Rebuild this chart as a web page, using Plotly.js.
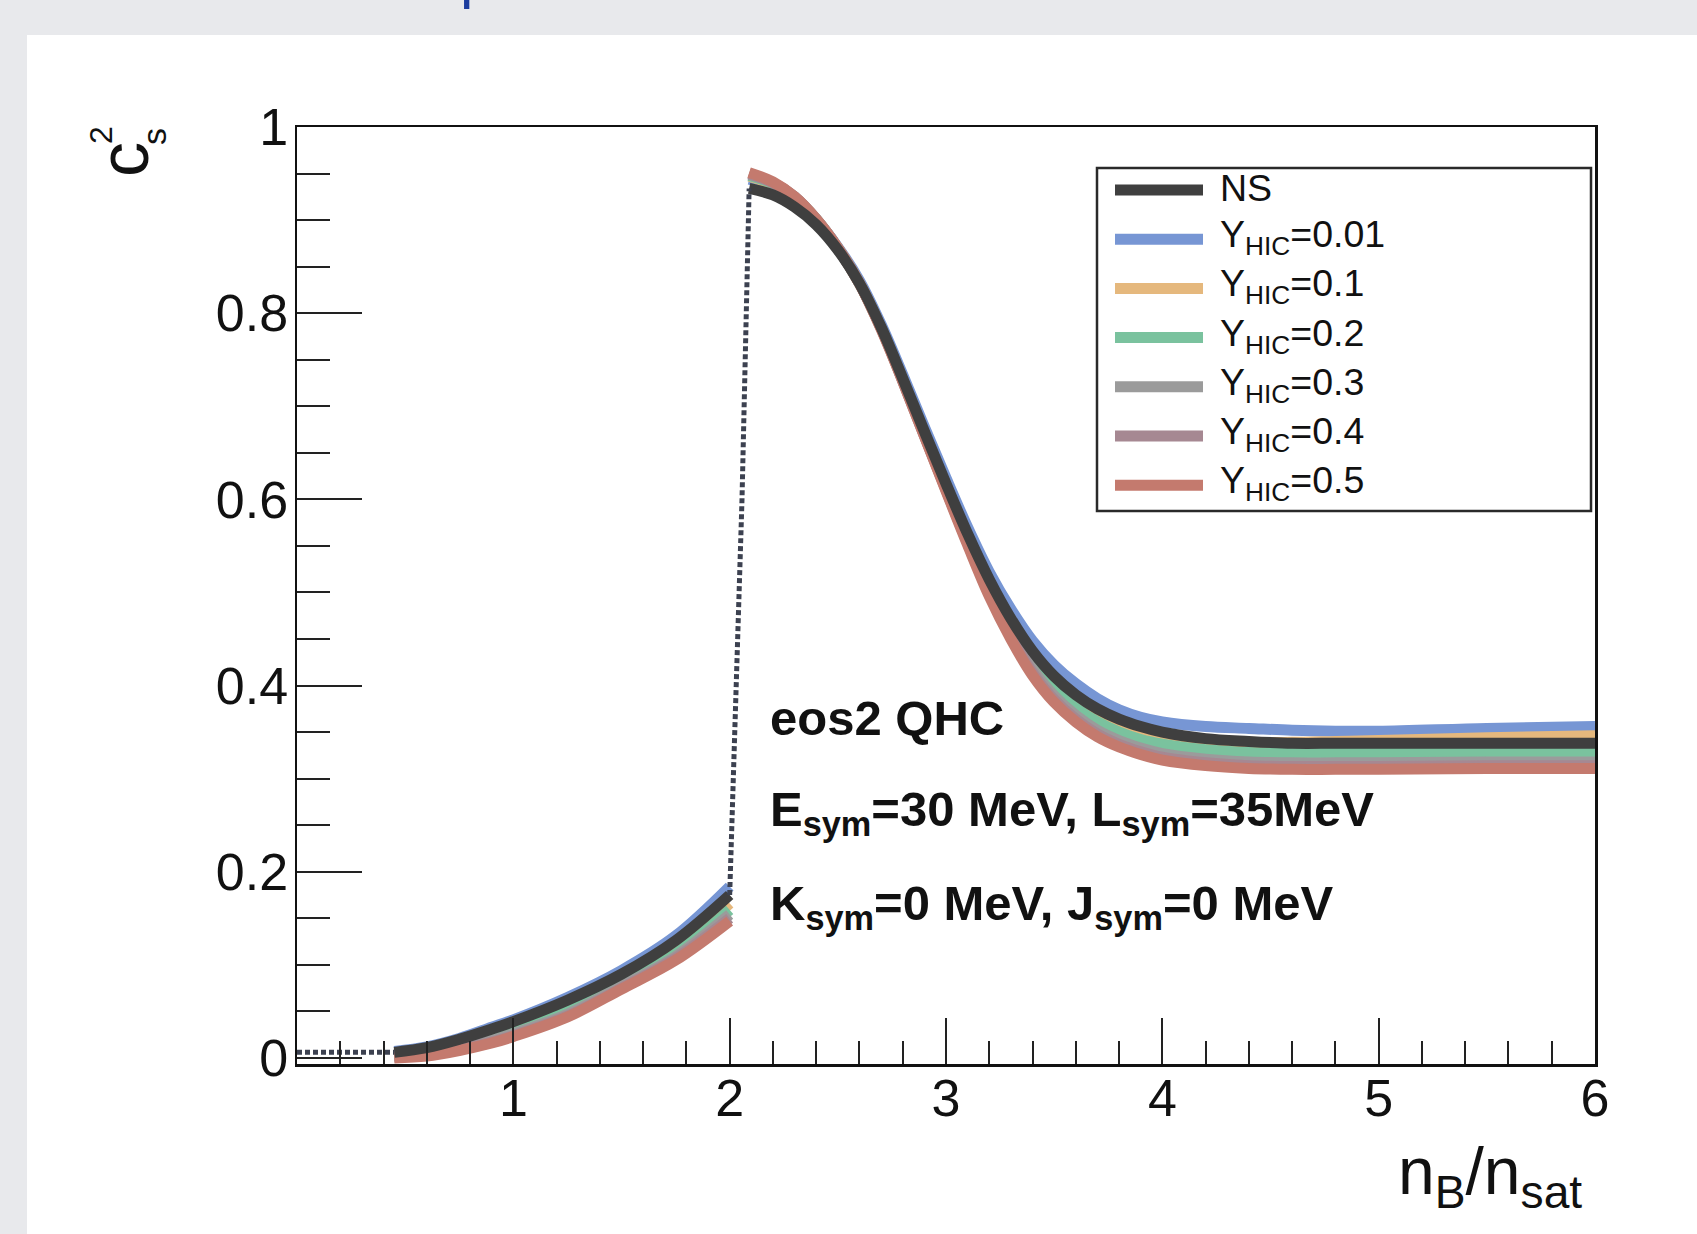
<!DOCTYPE html>
<html>
<head>
<meta charset="utf-8">
<script src="https://cdn.plot.ly/plotly-3.0.1.min.js"></script>
<style>html,body{margin:0;padding:0;background:#e8e9ec;}#chart{width:1697px;height:1234px;}</style>
</head>
<body>
<div id="chart"></div>
<script>
// ---------------- data ----------------
const seriesNames = ['NS', 'Y<sub>HIC</sub>=0.01', 'Y<sub>HIC</sub>=0.1', 'Y<sub>HIC</sub>=0.2',
                     'Y<sub>HIC</sub>=0.3', 'Y<sub>HIC</sub>=0.4', 'Y<sub>HIC</sub>=0.5'];
const seriesColors = ['#3f3f3f', '#7796d4', '#e5b87d', '#7ac29e', '#9b9b9b', '#a68892', '#c47a6e'];

// hadronic branch (below the transition)
const xLow = [0.45, 0.6, 0.75, 0.9, 1.0, 1.25, 1.5, 1.75, 2.0];
const nsLow     = [0.006, 0.011, 0.020, 0.031, 0.039, 0.062, 0.090, 0.126, 0.175];
const y001Low   = [0.007, 0.012, 0.021, 0.033, 0.041, 0.065, 0.094, 0.131, 0.184];
const y01Low    = [0.004, 0.008, 0.015, 0.025, 0.033, 0.055, 0.083, 0.117, 0.166];
const y02Low    = [0.003, 0.006, 0.012, 0.021, 0.029, 0.050, 0.079, 0.112, 0.159];
const y03Low    = [0.002, 0.004, 0.010, 0.019, 0.026, 0.047, 0.077, 0.109, 0.154];
const y04Low    = [0.001, 0.003, 0.009, 0.017, 0.024, 0.045, 0.075, 0.107, 0.150];
const y05Low    = [0.000, 0.002, 0.008, 0.016, 0.023, 0.044, 0.074, 0.105, 0.147];

// quark branch (above the transition)
const xHigh = [2.09, 2.2, 2.3, 2.4, 2.5, 2.6, 2.7, 2.8, 2.9, 3.0, 3.1, 3.2, 3.3, 3.4, 3.5, 3.6,
               3.7, 3.8, 3.9, 4.0, 4.2, 4.4, 4.6, 4.8, 5.0, 5.5, 6.0];
const nsHigh   = [0.934,0.927,0.914,0.895,0.868,0.832,0.785,0.730,0.673,0.617,0.563,0.514,0.472,0.437,0.410,0.390,0.375,0.364,0.356,0.350,0.343,0.340,0.338,0.338,0.338,0.338,0.338];
const y001High = [0.944,0.936,0.922,0.900,0.871,0.835,0.788,0.734,0.678,0.623,0.570,0.522,0.482,0.448,0.422,0.402,0.386,0.374,0.366,0.361,0.356,0.354,0.352,0.351,0.351,0.354,0.356];
const y01High  = [0.947,0.938,0.923,0.900,0.870,0.832,0.784,0.729,0.671,0.615,0.560,0.510,0.467,0.431,0.403,0.384,0.370,0.360,0.353,0.348,0.342,0.339,0.339,0.340,0.341,0.344,0.346];
const y02High  = [0.948,0.939,0.924,0.901,0.870,0.832,0.784,0.728,0.670,0.612,0.556,0.504,0.460,0.424,0.396,0.376,0.361,0.350,0.342,0.337,0.331,0.328,0.327,0.327,0.327,0.327,0.327];
const y03High  = [0.949,0.940,0.925,0.901,0.870,0.832,0.784,0.728,0.669,0.611,0.554,0.501,0.456,0.418,0.389,0.368,0.352,0.341,0.333,0.327,0.321,0.318,0.317,0.317,0.317,0.318,0.318];
const y04High  = [0.950,0.940,0.925,0.901,0.870,0.832,0.784,0.727,0.668,0.610,0.553,0.499,0.453,0.414,0.385,0.364,0.348,0.337,0.329,0.323,0.317,0.314,0.313,0.313,0.313,0.314,0.314];
const y05High  = [0.951,0.941,0.925,0.901,0.870,0.832,0.783,0.727,0.668,0.609,0.551,0.496,0.450,0.411,0.382,0.361,0.345,0.334,0.326,0.320,0.314,0.311,0.310,0.310,0.310,0.311,0.311];

// sparse (dotted-looking) parts of the NS curve: flat start and the jump
const xSparse = [0, 0.45, null, 2.0, 2.03, 2.057, 2.09];
const ySparse = [0.006, 0.006, null, 0.175, 0.39, 0.60, 0.934];

const xTickVals = [1, 2, 3, 4, 5, 6];
const yTickVals = [0, 0.2, 0.4, 0.6, 0.8, 1];
const yTickText = ['0', '0.2', '0.4', '0.6', '0.8', '1'];
const infoLines = ['<b>eos2 QHC</b>',
                   '<b>E<sub>sym</sub>=30 MeV, L<sub>sym</sub>=35MeV</b>',
                   '<b>K<sub>sym</sub>=0 MeV, J<sub>sym</sub>=0 MeV</b>'];

const lowSets  = [nsLow, y001Low, y01Low, y02Low, y03Low, y04Low, y05Low];
const highSets = [nsHigh, y001High, y01High, y02High, y03High, y04High, y05High];

// ---------------- layout geometry ----------------
const W = 1697, H = 1234;
const M = {l: 297, r: 102, t: 127, b: 170};
const PW = W - M.l - M.r, PH = H - M.t - M.b;
const px = X => (X - M.l) / PW;          // page pixel -> paper x
const py = Y => (H - M.b - Y) / PH;      // page pixel -> paper y
const FONT = 'Liberation Sans, Arial, Helvetica, sans-serif';

// ---------------- traces ----------------
const traces = [];
// colored first, NS on top
const order = [1, 2, 3, 4, 5, 6, 0];
order.forEach(i => {
  traces.push({
    type: 'scatter', mode: 'lines', name: seriesNames[i],
    x: xLow.concat([null], xHigh),
    y: lowSets[i].concat([null], highSets[i]),
    connectgaps: false,
    line: {color: seriesColors[i], width: 11, shape: 'spline', smoothing: 1},
    showlegend: false, hoverinfo: 'skip'
  });
});
traces.push({
  type: 'scatter', mode: 'lines', name: 'NS (sparse)',
  x: xSparse, y: ySparse, connectgaps: false,
  line: {color: '#3c4150', width: 5, dash: '5px,3px'},
  showlegend: false, hoverinfo: 'skip'
});

// ---------------- shapes & annotations ----------------
const shapes = [
  // white panel on grey page
  {type: 'rect', xref: 'paper', yref: 'paper', x0: px(27), x1: px(W + 20), y0: py(H + 20), y1: py(35),
   fillcolor: '#ffffff', line: {width: 0}, layer: 'below'},
  // legend box
  {type: 'rect', xref: 'paper', yref: 'paper', x0: px(1097), x1: px(1591), y0: py(511), y1: py(168),
   fillcolor: '#ffffff', line: {color: '#2a2a2a', width: 2.5}, layer: 'above'}
];
const annotations = [];
const legTop = 190, legStep = 49.2;
seriesNames.forEach((nm, i) => {
  const yc = legTop + i * legStep;
  shapes.push({type: 'line', xref: 'paper', yref: 'paper', x0: px(1115), x1: px(1203), y0: py(yc), y1: py(yc),
               line: {color: seriesColors[i], width: 11}, layer: 'above'});
  annotations.push({xref: 'paper', yref: 'paper', x: px(1218), y: py(yc - 2), xanchor: 'left', yanchor: 'middle',
                    text: nm, showarrow: false, font: {family: FONT, size: 37.5, color: '#111'}});
});
// info text
const infoY = [718, 812, 906];
infoLines.forEach((t, i) => {
  annotations.push({xref: 'paper', yref: 'paper', x: px(768), y: py(infoY[i]), xanchor: 'left', yanchor: 'middle',
                    text: t, showarrow: false, font: {family: FONT, size: 49, color: '#111'}});
});
// axis titles
annotations.push({xref: 'paper', yref: 'paper', x: px(1584), y: py(1176), xanchor: 'right', yanchor: 'middle',
                  text: 'n<sub>B</sub>/n<sub>sat</sub>', showarrow: false, font: {family: FONT, size: 66, color: '#111'}});
annotations.push({xref: 'paper', yref: 'paper', x: px(124), y: py(160), xanchor: 'center', yanchor: 'middle',
                  text: 'c', textangle: -90, showarrow: false, font: {family: FONT, size: 70, color: '#111'}});
annotations.push({xref: 'paper', yref: 'paper', x: px(101), y: py(135), xanchor: 'center', yanchor: 'middle',
                  text: '2', textangle: -90, showarrow: false, font: {family: FONT, size: 32, color: '#111'}});
annotations.push({xref: 'paper', yref: 'paper', x: px(154), y: py(137), xanchor: 'center', yanchor: 'middle',
                  text: 's', textangle: -90, showarrow: false, font: {family: FONT, size: 34, color: '#111'}});
// clipped fragment of the page heading above the panel
annotations.push({xref: 'paper', yref: 'paper', x: px(458), y: py(12), xanchor: 'left', yanchor: 'bottom',
                  text: 'p', showarrow: false, font: {family: FONT, size: 60, color: '#1c3d9e'}});

const layout = {
  width: W, height: H,
  margin: M,
  paper_bgcolor: '#e8e9ec',
  plot_bgcolor: '#ffffff',
  showlegend: false,
  font: {family: FONT, color: '#111'},
  xaxis: {
    range: [0, 6], tickmode: 'array', tickvals: xTickVals,
    ticks: 'inside', ticklen: 46, tickwidth: 2, tickcolor: '#222',
    minor: {tickmode: 'linear', tick0: 0, dtick: 0.2, ticks: 'inside', ticklen: 23, tickwidth: 2, tickcolor: '#222', showgrid: false},
    showline: true, linecolor: '#111', linewidth: 2.5, mirror: true,
    showgrid: false, zeroline: false,
    tickfont: {family: FONT, size: 52, color: '#111'}, ticklabelstandoff: -13
  },
  yaxis: {
    range: [-0.0065, 1.0], tickmode: 'array', tickvals: yTickVals, ticktext: yTickText,
    ticks: 'inside', ticklen: 65, tickwidth: 2, tickcolor: '#222',
    minor: {tickmode: 'linear', tick0: 0, dtick: 0.05, ticks: 'inside', ticklen: 33, tickwidth: 2, tickcolor: '#222', showgrid: false},
    showline: true, linecolor: '#111', linewidth: 2.5, mirror: true,
    showgrid: false, zeroline: false,
    tickfont: {family: FONT, size: 52, color: '#111'}, ticklabelstandoff: -4
  },
  shapes: shapes,
  annotations: annotations
};

Plotly.newPlot('chart', traces, layout, {displayModeBar: false, staticPlot: true});
</script>
</body>
</html>
